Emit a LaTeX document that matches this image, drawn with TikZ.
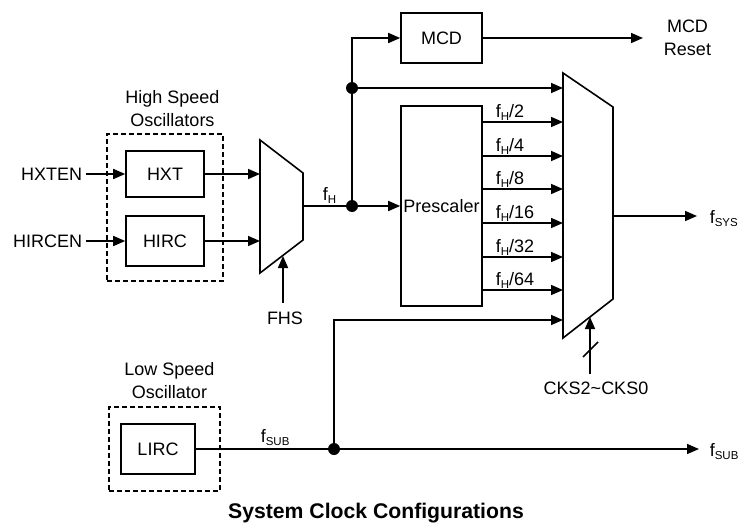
\documentclass[tikz,border=0pt]{standalone}
\usepackage{fontspec}
\setmainfont{Liberation Sans}
\usetikzlibrary{arrows.meta}
\newcommand{\mysub}[1]{\raisebox{-3pt}{\fontsize{11.5}{12}\selectfont #1}}
\begin{document}
\begin{tikzpicture}[x=1pt,y=-1pt,line width=1.6pt,
  font=\fontsize{18}{22.5}\selectfont,
  box/.style={draw,inner sep=0pt},
  dbox/.style={draw,dash pattern=on 5pt off 3pt,line width=1.5pt,inner sep=0pt},
  arr/.style={-{Triangle[length=12pt,width=10pt]}},
  dot/.style={circle,fill,inner sep=0pt,minimum size=12pt},
  lbl/.style={inner sep=0pt}]
\useasboundingbox (0,0) rectangle (740,525);

% high speed oscillators
\node[dbox,minimum width=116pt,minimum height=147pt] (hso) at (165,207.5) {};
\node[align=center] (hsl) at (172.5,108.5) {High Speed\\Oscillators};
\node[box,minimum width=78pt,minimum height=46pt] (hxt) at (165,174) {HXT};
\node[box,minimum width=78pt,minimum height=50pt] (hirc) at (165,241) {HIRC};
\node[anchor=east,inner sep=3pt] (hxten) at (86,174) {HXTEN};
\node[anchor=east,inner sep=3pt] (hircen) at (86,241) {HIRCEN};
\draw[arr] (hxten.east) -- (hxt.west);
\draw[arr] (hircen.east) -- (hirc.west);

% mux 1
\coordinate (m1a) at (260,140);
\coordinate (m1b) at (303,173);
\coordinate (m1c) at (303,240);
\coordinate (m1d) at (260,273);
\coordinate (m1o) at (303,206);
\coordinate (m1s) at (283,256);
\draw (m1a) -- (m1b) -- (m1c) -- (m1d) -- cycle;
\draw[arr] (hxt.east) -- (hxt.east -| m1a);
\draw[arr] (hirc.east) -- (hirc.east -| m1a);
\node (fhs) at (285,318) {FHS};
\coordinate (fhst) at (283,303);
\draw[arr] (fhst) -- (m1s);

% f_H distribution
\node[dot] (jh) at (352,206) {};
\node[dot] (jm) at (352,88) {};
\node[lbl,anchor=base west] (fhl) at (322,200) {f\mysub{H}};
\node[box,minimum width=81pt,minimum height=200pt] (pre) at (441.5,206) {Prescaler};
\node[box,minimum width=81pt,minimum height=50pt] (mcd) at (441.5,38) {MCD};
\draw (m1o) -- (jh.center);
\draw[arr] (jh.center) -- (pre.west);
\draw[arr] (jh.center) |- (mcd.west);
\node[align=center] (mcdr) at (687.5,38) {MCD\\Reset};
\draw[arr] (mcd.east) -- (643,38) coordinate (mcde);

% mux 2
\coordinate (m2a) at (563,73);
\coordinate (m2b) at (613,107);
\coordinate (m2c) at (613,299);
\coordinate (m2d) at (563,338);
\coordinate (m2o) at (613,216);
\coordinate (m2s) at (590,317);
\coordinate (m2i) at (563,320);
\draw (m2a) -- (m2b) -- (m2c) -- (m2d) -- cycle;
\draw[arr] (jm.center) -- (jm.center -| m2a);
\foreach \yy/\dv in {122/2,156/4,189/8,223/16,257/32,290/64}{
  \draw[arr] (pre.east |- 0,\yy) -- (m2a |- 0,\yy);
  \node[lbl,anchor=base west] (d\dv) at (495,\yy-5) {f\mysub{H}/\dv};
}
\node[lbl,anchor=base west] (fsys) at (709,223) {f\mysub{SYS}};
\draw[arr] (m2o) -- ([xshift=-12pt]fsys.west |- m2o);

% select
\node (cks) at (596,388) {CKS2\textasciitilde CKS0};
\coordinate (ckst) at (590,374);
\draw[arr] (ckst) -- (m2s);
\draw (583,357) -- (598,342);

% low speed oscillator
\node[dbox,minimum width=111pt,minimum height=84pt] (lso) at (164.5,449) {};
\node[align=center] (lsl) at (169.5,380.5) {Low Speed\\Oscillator};
\node[box,minimum width=74pt,minimum height=50pt] (lirc) at (158,449) {LIRC};
\node[dot] (js) at (334,449) {};
\node[lbl,anchor=base west] (fsubl) at (260,442) {f\mysub{SUB}};
\node[lbl,anchor=base west] (fsub) at (709,456) {f\mysub{SUB}};
\draw (lirc.east) -- (js.center);
\draw[arr] (js.center) -- (699,449) coordinate (fsube);
\draw[arr] (js.center) |- (m2i);

% title
\node[font=\bfseries\fontsize{21.2}{25}\selectfont] (title) at (376,513) {System Clock Configurations};
\end{tikzpicture}
\end{document}
